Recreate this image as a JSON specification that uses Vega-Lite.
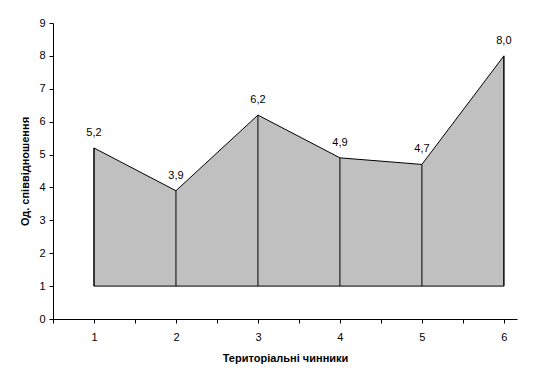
{
  "$schema": "https://vega.github.io/schema/vega-lite/v6.json",
  "width": 464,
  "height": 296,
  "autosize": {"type": "none"},
  "padding": {"left": 53, "top": 23, "right": 42, "bottom": 63},
  "background": "white",
  "config": {
    "view": {"stroke": null},
    "locale": {"number": {"decimal": ",", "thousands": " ", "grouping": [3], "currency": ["", ""]}},
    "axis": {"labelFont": "Liberation Sans", "labelFontSize": 11, "labelColor": "black", "titleFont": "Liberation Sans", "titleFontSize": 11, "titleFontWeight": "bold", "titleColor": "black", "domainColor": "black", "tickColor": "black", "grid": false, "tickSize": 4}
  },
  "data": {"values": [
    {"x": 1, "v": 5.2},
    {"x": 2, "v": 3.9},
    {"x": 3, "v": 6.2},
    {"x": 4, "v": 4.9},
    {"x": 5, "v": 4.7},
    {"x": 6, "v": 8.0}
  ]},
  "encoding": {
    "x": {"field": "x", "type": "quantitative", "scale": {"domain": [0.5, 6.16], "nice": false, "zero": false},
      "axis": {"title": "Територіальні чинники", "values": [0.5, 1, 1.5, 2, 2.5, 3, 3.5, 4, 4.5, 5, 5.5, 6], "labelExpr": "datum.value % 1 === 0 ? format(datum.value, 'd') : ''", "labelOverlap": false, "labelPadding": 8, "titlePadding": 10}},
    "y": {"field": "v", "type": "quantitative", "scale": {"domain": [0, 9], "nice": false},
      "axis": {"title": "Од. співвідношення", "values": [0,1,2,3,4,5,6,7,8,9], "labelPadding": 4, "titlePadding": 8, "format": "d"}}
  },
  "layer": [
    {"mark": {"type": "area", "fill": "#C0C0C0", "stroke": "black", "strokeWidth": 1},
     "encoding": {"y2": {"datum": 1}}},
    {"mark": {"type": "rule", "color": "black", "strokeWidth": 1},
     "encoding": {"y2": {"datum": 1}}},
    {"mark": {"type": "text", "font": "Liberation Sans", "fontSize": 11, "color": "black", "dy": -15},
     "encoding": {"text": {"field": "v", "type": "quantitative", "format": ".1f"}}}
  ]
}
